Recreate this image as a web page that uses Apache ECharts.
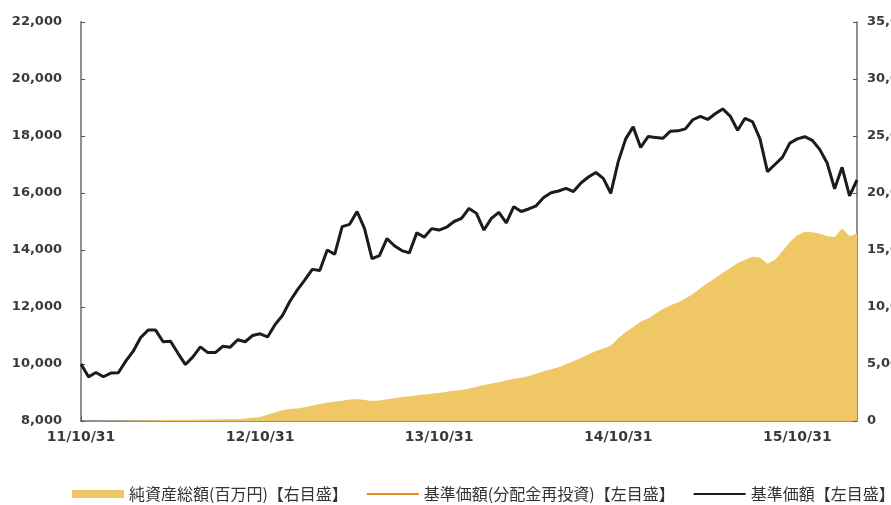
<!DOCTYPE html>
<html><head><meta charset="utf-8">
<script src="https://cdn.jsdelivr.net/npm/echarts@6/dist/echarts.min.js"></script>
<style>html,body{margin:0;padding:0;background:#fff}#c{width:891px;height:505px}</style>
</head><body><div id="c"></div>
<script>
// semi-monthly dates from 2011/10/31
const tickLabels = ['11/10/31','12/10/31','13/10/31','14/10/31','15/10/31'];
const seriesNames = ['純資産総額(百万円)【右目盛】','基準価額(分配金再投資)【左目盛】','基準価額【左目盛】'];
// 基準価額 (left axis)
const navValues = [
10000,9550,9700,9553,9680,9694,10100,10450,10930,11190,
11190,10782,10800,10375,9980,10250,10600,10400,10400,10620,
10590,10850,10780,11000,11060,10950,11380,11700,12200,12600,
12950,13320,13280,14000,13850,14820,14900,15350,14750,13700,
13800,14400,14150,13980,13900,14600,14450,14750,14700,14800,
15000,15110,15460,15285,14700,15110,15320,14950,15520,15350,
15440,15550,15840,16010,16070,16160,16050,16350,16560,16720,
16515,15990,17100,17900,18320,17600,17980,17950,17920,18170,
18180,18250,18570,18690,18580,18780,18950,18700,18200,18620,
18500,17900,16750,17000,17250,17750,17900,17975,17850,17530,
17050,16150,16900,15900,16456];
// 基準価額(分配金再投資) (left axis) - overlaps 基準価額
const navReinvValues = navValues.slice();
// 純資産総額 百万円 (right axis)
const assetValues = [
0,5,10,15,20,25,30,40,50,60,
70,80,90,100,110,120,130,140,150,160,
170,180,220,280,350,550,750,950,1050,1100,
1200,1350,1500,1600,1700,1780,1880,1920,1850,1750,
1800,1900,2000,2100,2180,2250,2320,2400,2450,2570,
2660,2720,2860,3000,3150,3280,3400,3560,3700,3800,
3950,4150,4370,4550,4720,4980,5250,5530,5830,6150,
6350,6600,7250,7800,8250,8700,9000,9400,9830,10150,
10400,10750,11150,11650,12100,12550,13000,13400,13850,14150,
14400,14350,13800,14150,14900,15700,16300,16600,16550,16450,
16200,16150,16900,16200,16450];

const dates = [];
(function(){
  let y = 2011, m = 10;
  dates.push('11/10/31');
  while (dates.length < navValues.length) {
    m++; if (m > 12) { m = 1; y++; }
    const last = new Date(y, m, 0).getDate();
    const yy = String(y % 100).padStart(2,'0'), mm = String(m).padStart(2,'0');
    dates.push(yy + '/' + mm + '/15');
    if (dates.length < navValues.length) dates.push(yy + '/' + mm + '/' + last);
  }
})();

const axisColor = '#8f8f8f';
const yFont = {color:'#3a3a3a', fontSize:13, fontWeight:'bold', fontFamily:'DejaVu Sans'};
const xFont = {color:'#3a3a3a', fontSize:14, fontWeight:'bold', fontFamily:'DejaVu Sans'};
const chart = echarts.init(document.getElementById('c'));
chart.setOption({
  animation:false,
  backgroundColor:'#fff',
  grid:{left:81, right:34, top:22, bottom:84, containLabel:false, outerBoundsMode:'none'},
  legend:{
    left:67, top:481, width:1400, itemWidth:52, itemHeight:8, itemGap:18,
    textStyle:{color:'#333', fontSize:16, fontFamily:'Noto Sans CJK JP'},
    data:[
      {name:seriesNames[0], icon:'rect'},
      {name:seriesNames[1], itemStyle:{opacity:0}},
      {name:seriesNames[2], itemStyle:{opacity:0}}
    ]
  },
  xAxis:{
    type:'category', data:dates, boundaryGap:false,
    axisLine:{lineStyle:{color:axisColor, width:2}},
    axisTick:{inside:true, length:4, lineStyle:{color:'#555'}, interval:(i,v)=>tickLabels.includes(v)},
    axisLabel:Object.assign({margin:9, interval:(i,v)=>tickLabels.includes(v)}, xFont),
    splitLine:{show:false}
  },
  yAxis:[
    {type:'value', min:8000, max:22000, interval:2000, position:'left',
     axisLine:{show:true, lineStyle:{color:axisColor, width:2}},
     axisTick:{show:true, inside:true, length:4, lineStyle:{color:'#555'}},
     axisLabel:Object.assign({margin:19}, yFont), splitLine:{show:false}},
    {type:'value', min:0, max:35000, interval:5000, position:'right',
     axisLine:{show:true, lineStyle:{color:axisColor, width:2}},
     axisTick:{show:true, inside:true, length:4, lineStyle:{color:'#555'}},
     axisLabel:Object.assign({margin:10}, yFont), splitLine:{show:false}}
  ],
  series:[
    {name:seriesNames[0], type:'line', yAxisIndex:1, data:assetValues, symbol:'none',
     lineStyle:{width:0, color:'#EFC865'}, itemStyle:{color:'#EFC865'},
     areaStyle:{color:'#EFC865', opacity:1}},
    {name:seriesNames[1], type:'line', yAxisIndex:0, data:navReinvValues, symbol:'none',
     lineStyle:{width:2, color:'#E8891C'}, itemStyle:{color:'#E8891C'}},
    {name:seriesNames[2], type:'line', yAxisIndex:0, data:navValues, symbol:'none',
     lineStyle:{width:3, color:'#1c1c1c'}, itemStyle:{color:'#1c1c1c'}}
  ]
});
</script></body></html>
